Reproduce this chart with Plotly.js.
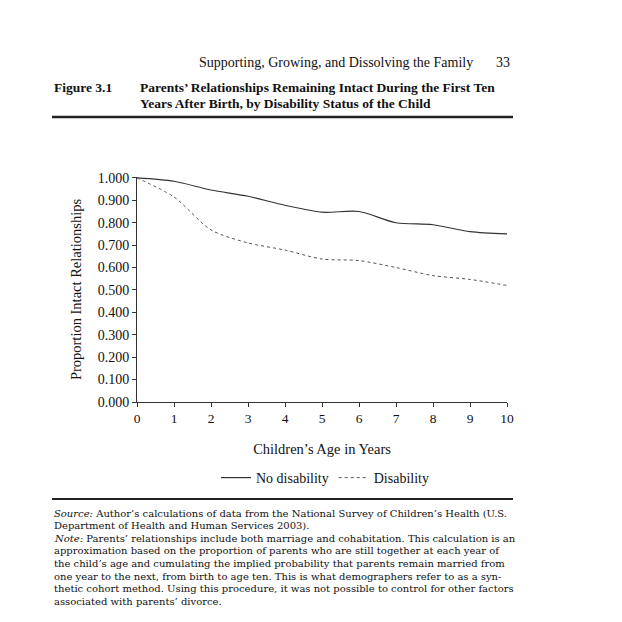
<!DOCTYPE html>
<html>
<head>
<meta charset="utf-8">
<script src="https://cdn.plot.ly/plotly-3.0.1.min.js"></script>
<style>html,body{margin:0;padding:0;background:#fff;}#chart{width:622px;height:622px;}</style>
</head>
<body>
<div id="chart"></div>
<script>
// ---- data ----
var ages = [0, 1, 2, 3, 4, 5, 6, 7, 8, 9, 10];
var noDisability = [1.000, 0.985, 0.946, 0.918, 0.878, 0.847, 0.850, 0.800, 0.791, 0.760, 0.750];
var disability   = [1.000, 0.915, 0.768, 0.710, 0.678, 0.638, 0.631, 0.600, 0.564, 0.547, 0.520];
var yTicks = [0, 0.1, 0.2, 0.3, 0.4, 0.5, 0.6, 0.7, 0.8, 0.9, 1.0];
var xTicks = [0, 1, 2, 3, 4, 5, 6, 7, 8, 9, 10];
var seriesNames = ["No disability", "Disability"];
var headerText = "Supporting, Growing, and Dissolving the Family";
var pageNumber = "33";
var figLabel = "Figure 3.1";
var titleLines = ["Parents’ Relationships Remaining Intact During the First Ten",
                  "Years After Birth, by Disability Status of the Child"];
var xTitle = "Children’s Age in Years";
var yTitle = "Proportion Intact Relationships";
var noteLines = [
  "<i>Source:</i> Author’s calculations of data from the National Survey of Children’s Health (U.S.",
  "Department of Health and Human Services 2003).",
  "<i>Note:</i> Parents’ relationships include both marriage and cohabitation. This calculation is an",
  "approximation based on the proportion of parents who are still together at each year of",
  "the child’s age and cumulating the implied probability that parents remain married from",
  "one year to the next, from birth to age ten. This is what demographers refer to as a syn-",
  "thetic cohort method. Using this procedure, it was not possible to control for other factors",
  "associated with parents’ divorce."
];

// ---- layout geometry (pixels) ----
var W = 622, H = 622;
var PL = 137, PR = 507, PT = 177, PB = 402;
function px(x){ return (x - PL) / (PR - PL); }
function py(y){ return (PB - y) / (PB - PT); }
var SERIF = "Liberation Serif, Times New Roman, serif";
var NOTE_SERIF = "DejaVu Serif, serif";

var annotations = [];
function addText(text, x, y, size, anchor, family){
  annotations.push({text: text, xref: "paper", yref: "paper", x: px(x), y: py(y),
    xanchor: anchor || "left", yanchor: "middle", showarrow: false,
    font: {family: family || SERIF, size: size, color: "#111"}});
}
addText(headerText, 475, 62, 14, "right");
addText(pageNumber, 512, 62, 14, "right");
addText("<b>" + figLabel + "</b>", 52, 87, 13.5, "left");
addText("<b>" + titleLines[0] + "</b>", 138, 87, 13.5, "left");
addText("<b>" + titleLines[1] + "</b>", 138, 103, 13.5, "left");
for (var i = 0; i < noteLines.length; i++) {
  addText(noteLines[i], 52, 513 + i * 12.6, 10, "left", NOTE_SERIF);
}

var shapes = [
  {type: "line", xref: "paper", yref: "paper", x0: px(52), x1: px(513), y0: py(117), y1: py(117),
   line: {color: "#222", width: 2.5}},
  {type: "line", xref: "paper", yref: "paper", x0: px(52), x1: px(513), y0: py(499), y1: py(499),
   line: {color: "#222", width: 2}}
];

var traces = [
  {x: ages, y: noDisability, name: seriesNames[0], type: "scatter", mode: "lines",
   line: {color: "#333", width: 1.2, shape: "spline", smoothing: 0.8}},
  {x: ages, y: disability, name: seriesNames[1], type: "scatter", mode: "lines",
   line: {color: "#555", width: 1, dash: "3px,3px", shape: "spline", smoothing: 0.8}}
];

var layout = {
  width: W, height: H,
  margin: {l: PL, r: W - PR, t: PT, b: H - PB, pad: 0},
  paper_bgcolor: "#fff", plot_bgcolor: "#fff",
  font: {family: SERIF, size: 13, color: "#111"},
  showlegend: true,
  legend: {orientation: "h", x: px(325), xanchor: "center", y: py(478), yanchor: "middle",
    font: {family: SERIF, size: 14, color: "#111"}, bgcolor: "rgba(0,0,0,0)", itemwidth: 30},
  xaxis: {range: [0, 10], tickvals: xTicks, ticktext: xTicks.map(String),
    showgrid: false, zeroline: false, showline: true, linecolor: "#333", linewidth: 1,
    ticks: "outside", ticklen: 4, tickcolor: "#333",
    tickfont: {family: SERIF, size: 13.5, color: "#111"},
    title: {text: xTitle, standoff: 18, font: {family: SERIF, size: 14.5, color: "#111"}},
    fixedrange: true},
  yaxis: {range: [0, 1.004], tickvals: yTicks, ticktext: yTicks.map(function(v){return v.toFixed(3);}),
    showgrid: false, zeroline: false, showline: true, linecolor: "#333", linewidth: 1,
    ticks: "outside", ticklen: 4, tickcolor: "#333",
    tickfont: {family: SERIF, size: 14, color: "#111"},
    title: {text: yTitle, standoff: 12, font: {family: SERIF, size: 14.5, color: "#111"}},
    fixedrange: true},
  annotations: annotations,
  shapes: shapes
};

Plotly.newPlot("chart", traces, layout, {displayModeBar: false, staticPlot: true});
</script>
</body>
</html>
